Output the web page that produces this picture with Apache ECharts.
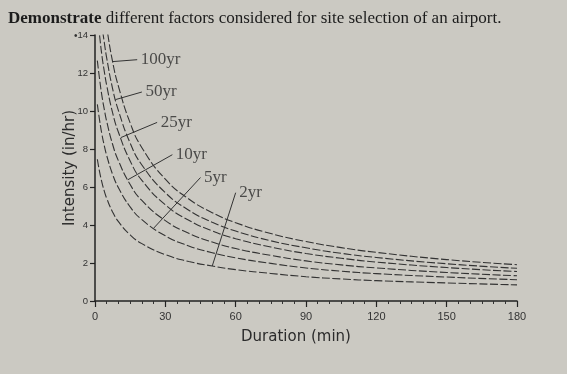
<!DOCTYPE html>
<html>
<head>
<meta charset="utf-8">
<script src="https://cdn.jsdelivr.net/npm/echarts@6/dist/echarts.min.js"></script>
<style>
html,body{margin:0;padding:0;background:#cbc9c2;}
#chart{width:567px;height:374px;}
</style>
</head>
<body>
<div id="chart"></div>
<script>
// Duration (min)
var durations = [1, 2, 3, 4, 5, 7.5, 10, 15, 20, 30, 40, 50, 60, 75, 90, 105, 120, 150, 180];
// Intensity (in/hr) per return period
var yr2   = [7.46, 6.77, 6.22, 5.77, 5.40, 4.69, 4.18, 3.48, 3.02, 2.44, 2.08, 1.84, 1.65, 1.45, 1.28, 1.16, 1.07, 0.95, 0.85];
var yr5   = [10.35, 9.48, 8.74, 8.15, 7.65, 6.67, 5.96, 4.95, 4.28, 3.43, 2.90, 2.54, 2.27, 1.98, 1.74, 1.57, 1.44, 1.26, 1.12];
var yr10  = [12.65, 11.64, 10.76, 10.06, 9.45, 8.25, 7.38, 6.13, 5.29, 4.23, 3.56, 3.10, 2.76, 2.40, 2.11, 1.90, 1.74, 1.50, 1.33];
var yr25  = [15.08, 13.92, 12.87, 12.06, 11.34, 9.91, 8.88, 7.37, 6.35, 5.06, 4.25, 3.69, 3.28, 2.84, 2.50, 2.25, 2.05, 1.76, 1.55];
var yr50  = [16.92, 15.65, 14.49, 13.58, 12.78, 11.18, 10.02, 8.31, 7.16, 5.70, 4.78, 4.14, 3.68, 3.17, 2.80, 2.51, 2.29, 1.96, 1.72];
var yr100 = [19.0, 17.6, 16.3, 15.3, 14.4, 12.6, 11.3, 9.37, 8.07, 6.41, 5.37, 4.65, 4.12, 3.55, 3.13, 2.81, 2.56, 2.18, 1.91];

var curveNames = ['2yr', '5yr', '10yr', '25yr', '50yr', '100yr'];
var curveValues = [yr2, yr5, yr10, yr25, yr50, yr100];
// leader lines: from a point on the curve [min, in/hr] to the label [min, in/hr]
var leaderFrom = [[50, 1.84], [25, 3.83], [14, 6.38], [11, 8.6], [8.75, 10.6], [7.5, 12.6]];
var leaderTo   = [[60, 5.7], [45, 6.5], [33, 7.7], [26.5, 9.4], [20, 11.0], [18, 12.7]];

var xTicks = [0, 30, 60, 90, 120, 150, 180];
var yTicks = [0, 2, 4, 6, 8, 10, 12, 14];

var ink = '#2b2b2b';
var series = curveNames.map(function (name, i) {
  return {
    name: name,
    type: 'line',
    smooth: true,
    showSymbol: false,
    symbol: 'none',
    clip: true,
    data: durations.map(function (t, j) { return [t, curveValues[i][j]]; }),
    lineStyle: { color: '#333', width: 1.1, type: [8, 2.5] },
    markLine: {
      silent: true,
      symbol: ['none', 'none'],
      label: { show: false },
      lineStyle: { color: '#333', width: 1, type: 'solid' },
      data: [[{ coord: leaderFrom[i] }, { coord: leaderTo[i] }]]
    }
  };
});
series.push({
  name: 'labels',
  type: 'scatter',
  symbolSize: 1,
  itemStyle: { color: 'rgba(0,0,0,0)' },
  silent: true,
  data: curveNames.map(function (n, i) { return { name: n, value: leaderTo[i] }; }),
  label: {
    show: true, position: 'right', distance: 3, formatter: '{b}',
    fontFamily: 'Liberation Serif', fontSize: 17, color: ink
  }
});

var chart = echarts.init(document.getElementById('chart'), null, { renderer: 'canvas' });
chart.setOption({
  backgroundColor: '#cbc9c2',
  animation: false,
  title: {
    text: '{b|Demonstrate} different factors considered for site selection of an airport.',
    left: 8, top: 10, padding: 0,
    textStyle: {
      fontFamily: 'Liberation Serif', fontSize: 17, fontWeight: 'normal', color: '#1c1c1c',
      rich: { b: { fontFamily: 'Liberation Serif', fontSize: 17, fontWeight: 'bold', color: '#1c1c1c' } }
    }
  },
  graphic: [{ type: 'text', left: 74, top: 31, style: { text: '•', fontSize: 10, fill: '#333' } }],
  grid: { left: 95, right: 50, top: 35, bottom: 73 },
  xAxis: {
    type: 'value', min: xTicks[0], max: xTicks[xTicks.length - 1], interval: 30,
    name: 'Duration (min)', nameLocation: 'middle', nameGap: 29,
    nameTextStyle: { fontFamily: 'DejaVu Sans', fontSize: 15, color: ink, padding: [0, 20, 0, 0] },
    axisLine: { show: true, lineStyle: { color: '#222', width: 1.5 } },
    axisTick: { show: true, length: 6, lineStyle: { color: '#222', width: 1.2 } },
    minorTick: { show: true, splitNumber: 6, length: 3, lineStyle: { color: '#333', width: 1 } },
    axisLabel: { fontFamily: 'Liberation Sans', fontSize: 11, color: '#333', margin: 10 },
    splitLine: { show: false }, minorSplitLine: { show: false }
  },
  yAxis: {
    type: 'value', min: yTicks[0], max: yTicks[yTicks.length - 1], interval: 2,
    name: 'Intensity (in/hr)', nameLocation: 'middle', nameGap: 17, nameMoveOverlap: false,
    nameTextStyle: { fontFamily: 'DejaVu Sans', fontSize: 15, color: ink },
    axisLine: { show: true, lineStyle: { color: '#222', width: 1.5 } },
    axisTick: { show: true, length: 5, lineStyle: { color: '#222', width: 1.2 } },
    axisLabel: { fontFamily: 'Liberation Sans', fontSize: 9.5, color: '#333', margin: 7 },
    splitLine: { show: false }
  },
  series: series
});
</script>
</body>
</html>
